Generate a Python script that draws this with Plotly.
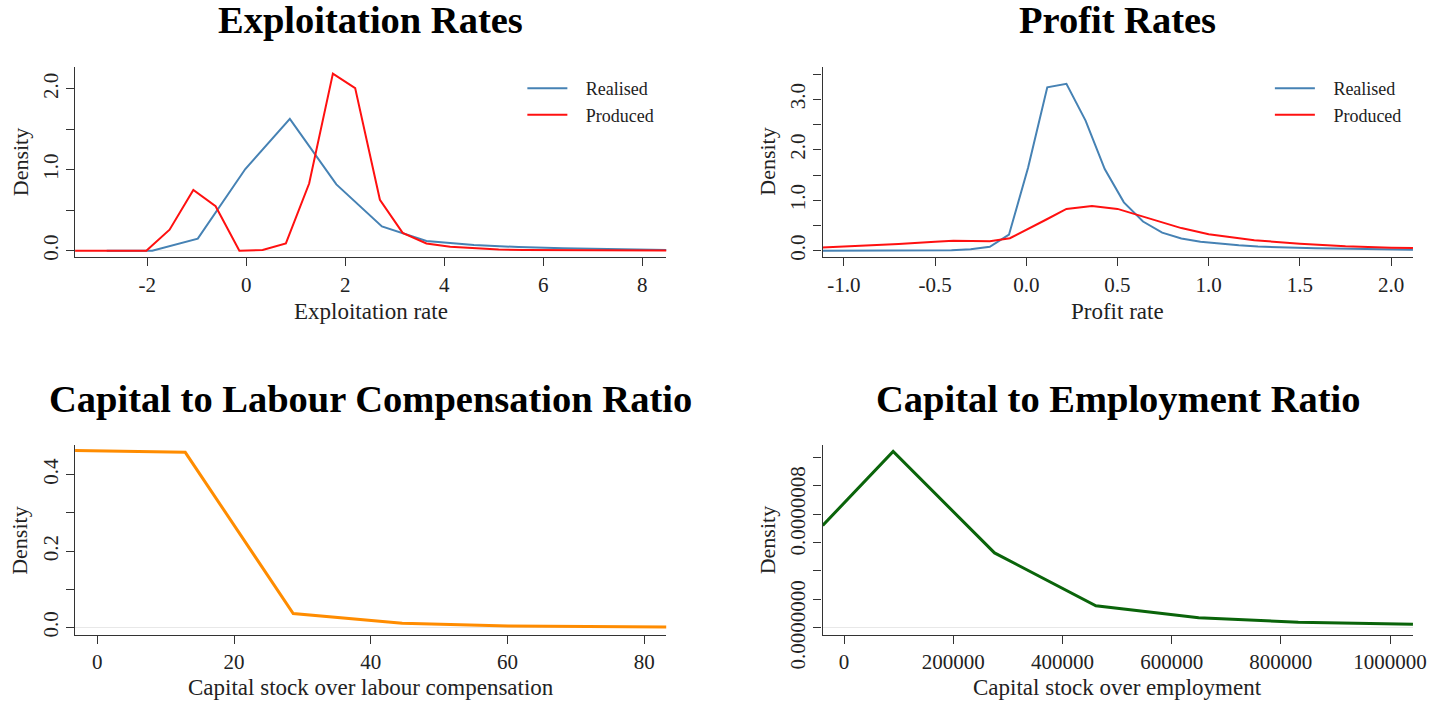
from __future__ import annotations

import plotly.graph_objects as go

# Exploitation rates (kernel density estimates)
expl_realised_x = [-2.82, -1.9, -0.98, -0.02, 0.88, 1.82, 2.74, 3.64, 4.6, 5.5, 6.4, 7.3, 8.2, 8.49]
expl_realised_y = [0.0, 0.0, 0.15, 1.01, 1.63, 0.82, 0.30, 0.12, 0.07, 0.045, 0.03, 0.02, 0.012, 0.01]
expl_produced_x = [-3.46, -2.98, -2.5, -2.02, -1.55, -1.07, -0.62, -0.14, 0.33, 0.8, 1.27, 1.75, 2.2, 2.7,
                   3.16, 3.64, 4.12, 4.6, 5.1, 5.6, 6.1, 6.6, 7.1, 7.6, 8.1, 8.49]
expl_produced_y = [0.0, 0.0, 0.0, 0.0, 0.26, 0.75, 0.55, 0.0, 0.01, 0.09, 0.83, 2.19, 2.01, 0.63,
                   0.22, 0.09, 0.05, 0.03, 0.015, 0.01, 0.008, 0.006, 0.005, 0.004, 0.003, 0.003]

# Profit rates
profit_realised_x = [-1.12, -0.83, -0.52, -0.41, -0.305, -0.2, -0.095, 0.01, 0.115, 0.22, 0.325, 0.43,
                     0.535, 0.64, 0.745, 0.85, 0.955, 1.06, 1.165, 1.27, 1.375, 1.48, 1.585, 1.69,
                     1.795, 1.9, 2.005, 2.12]
profit_realised_y = [0.0, 0.003, 0.008, 0.013, 0.03, 0.08, 0.32, 1.65, 3.24, 3.31, 2.58, 1.62,
                     0.96, 0.58, 0.36, 0.245, 0.18, 0.14, 0.11, 0.085, 0.07, 0.058, 0.05, 0.044,
                     0.038, 0.032, 0.027, 0.022]
profit_produced_x = [-1.12, -0.9, -0.7, -0.5, -0.4, -0.3, -0.2, -0.09, 0.01, 0.11, 0.22, 0.36, 0.5,
                     0.6, 0.75, 0.85, 1.0, 1.25, 1.5, 1.75, 2.0, 2.12]
profit_produced_y = [0.065, 0.1, 0.135, 0.18, 0.2, 0.195, 0.19, 0.25, 0.43, 0.62, 0.83, 0.89, 0.83,
                     0.72, 0.55, 0.45, 0.33, 0.21, 0.14, 0.09, 0.06, 0.055]

# Capital to labour compensation ratio
klc_x = [-3.25, 12.87, 28.66, 44.6, 60.1, 75.9, 83.25]
klc_y = [0.463, 0.4585, 0.0367, 0.0114, 0.0044, 0.0026, 0.0017]

# Capital to employment ratio
kemp_x = [-39000, 90000, 275700, 461300, 649500, 832000, 1042000]
kemp_y = [7.2e-7, 1.24e-6, 5.27e-7, 1.56e-7, 7.2e-8, 4.0e-8, 2.6e-8]

# Tick labels
expl_xticks = [-2, 0, 2, 4, 6, 8]
expl_xtext = ["-2", "0", "2", "4", "6", "8"]
expl_yticks = [0, 0.5, 1.0, 1.5, 2.0]
expl_ytext = ["0.0", "", "1.0", "", "2.0"]
profit_xticks = [-1.0, -0.5, 0.0, 0.5, 1.0, 1.5, 2.0]
profit_xtext = ["-1.0", "-0.5", "0.0", "0.5", "1.0", "1.5", "2.0"]
profit_yticks = [0, 0.5, 1.0, 1.5, 2.0, 2.5, 3.0, 3.5]
profit_ytext = ["0.0", "", "1.0", "", "2.0", "", "3.0", ""]
klc_xticks = [0, 20, 40, 60, 80]
klc_yticks = [0, 0.1, 0.2, 0.3, 0.4]
klc_ytext = ["0.0", "", "0.2", "", "0.4"]
kemp_xticks = [0, 200000, 400000, 600000, 800000, 1000000]
kemp_xtext = ["0", "200000", "400000", "600000", "800000", "1000000"]
kemp_yticks = [0, 2e-7, 4e-7, 6e-7, 8e-7, 1.0e-6, 1.2e-6]
kemp_ytext = ["0.0000000", "", "", "", "0.0000008", "", ""]

FONT = "Liberation Serif, Times New Roman, serif"
BLUE = "#4682b4"
RED = "#ff1010"
ORANGE = "#ff8c00"
GREEN = "#0a640a"

# positions below are worked out on the 1450x705 picture, as fractions of it
W, H = 1450, 705
# the figure itself is drawn a bit larger; the photographed page comes out at 1450x705
FIG_W, FIG_H = 1465, 740
GAP = "\u00a0\u00a0\u00a0"  # extra room between legend line and label


def px_x(v):
    return v / W


def px_y(v):
    return 1 - v / H


fig = go.Figure()

fig.add_trace(go.Scatter(x=expl_realised_x, y=expl_realised_y, mode="lines", name=GAP + "Realised",
                         line=dict(color=BLUE, width=2), xaxis="x", yaxis="y", legend="legend"))
fig.add_trace(go.Scatter(x=expl_produced_x, y=expl_produced_y, mode="lines", name=GAP + "Produced",
                         line=dict(color=RED, width=2), xaxis="x", yaxis="y", legend="legend"))
fig.add_trace(go.Scatter(x=profit_realised_x, y=profit_realised_y, mode="lines", name=GAP + "Realised",
                         line=dict(color=BLUE, width=2), xaxis="x2", yaxis="y2", legend="legend2"))
fig.add_trace(go.Scatter(x=profit_produced_x, y=profit_produced_y, mode="lines", name=GAP + "Produced",
                         line=dict(color=RED, width=2), xaxis="x2", yaxis="y2", legend="legend2"))
fig.add_trace(go.Scatter(x=klc_x, y=klc_y, mode="lines", showlegend=False,
                         line=dict(color=ORANGE, width=3), xaxis="x3", yaxis="y3"))
fig.add_trace(go.Scatter(x=kemp_x, y=kemp_y, mode="lines", showlegend=False,
                         line=dict(color=GREEN, width=3), xaxis="x4", yaxis="y4"))

left = [px_x(75), px_x(666)]
right = [px_x(822), px_x(1412)]
top = [px_y(257), px_y(67)]
bottom = [px_y(634), px_y(444)]

axis_common = dict(
    showline=True, linecolor="#333333", linewidth=1.2, ticks="outside", ticklen=8,
    tickcolor="#333333", showgrid=False, tickfont=dict(family=FONT, size=21, color="#222222"),
)
zero_common = dict(zeroline=True, zerolinecolor="#e8e8e8", zerolinewidth=1, tickangle=-90)
legend_common = dict(xanchor="left", yanchor="top", bgcolor="rgba(0,0,0,0)",
                     font=dict(family=FONT, size=18, color="#222222"), tracegroupgap=0, itemwidth=40)

fig.update_layout(
    width=FIG_W, height=FIG_H, autosize=False,
    paper_bgcolor="white", plot_bgcolor="white",
    margin=dict(l=0, r=0, t=0, b=0),
    font=dict(family=FONT, color="#222222"),
    xaxis=dict(domain=left, anchor="y", range=[-3.46, 8.49], tickvals=expl_xticks, ticktext=expl_xtext,
               zeroline=False, **axis_common),
    yaxis=dict(domain=top, anchor="x", range=[-0.082, 2.27], tickvals=expl_yticks, ticktext=expl_ytext,
               **zero_common, **axis_common),
    xaxis2=dict(domain=right, anchor="y2", range=[-1.117, 2.12], tickvals=profit_xticks,
                ticktext=profit_xtext, zeroline=False, **axis_common),
    yaxis2=dict(domain=top, anchor="x2", range=[-0.13, 3.64], tickvals=profit_yticks, ticktext=profit_ytext,
                **zero_common, **axis_common),
    xaxis3=dict(domain=left, anchor="y3", range=[-3.25, 83.25], tickvals=klc_xticks, zeroline=False,
                **axis_common),
    yaxis3=dict(domain=bottom, anchor="x3", range=[-0.019, 0.4786], tickvals=klc_yticks, ticktext=klc_ytext,
                **zero_common, **axis_common),
    xaxis4=dict(domain=right, anchor="y4", range=[-39260, 1042000], tickvals=kemp_xticks,
                ticktext=kemp_xtext, zeroline=False, **axis_common),
    yaxis4=dict(domain=bottom, anchor="x4", range=[-4.9e-8, 1.288e-6], tickvals=kemp_yticks,
                ticktext=kemp_ytext, **zero_common, **axis_common),
    legend=dict(x=px_x(522), y=px_y(70), **legend_common),
    legend2=dict(x=px_x(1269), y=px_y(70), **legend_common),
)

titles = [
    ("Exploitation Rates", (75 + 666) / 2, 20),
    ("Profit Rates", (822 + 1412) / 2, 20),
    ("Capital to Labour Compensation Ratio", (75 + 666) / 2, 398),
    ("Capital to Employment Ratio", (822 + 1412) / 2, 398),
]
for text, cx, cy in titles:
    fig.add_annotation(text=f"<b>{text}</b>", x=px_x(cx), y=px_y(cy), xref="paper", yref="paper",
                       showarrow=False, xanchor="center", yanchor="middle",
                       font=dict(family=FONT, size=38.5, color="black"))

x_titles = [
    ("Exploitation rate", (75 + 666) / 2, 311),
    ("Profit rate", (822 + 1412) / 2, 311),
    ("Capital stock over labour compensation", (75 + 666) / 2, 687),
    ("Capital stock over employment", (822 + 1412) / 2, 687),
]
for text, cx, cy in x_titles:
    fig.add_annotation(text=text, x=px_x(cx), y=px_y(cy), xref="paper", yref="paper",
                       showarrow=False, xanchor="center", yanchor="middle",
                       font=dict(family=FONT, size=23, color="#222222"))

for cx, cy in [(20, 162), (767, 162), (20, 540), (767, 540)]:
    fig.add_annotation(text="Density", x=px_x(cx), y=px_y(cy), xref="paper", yref="paper",
                       showarrow=False, xanchor="center", yanchor="middle", textangle=-90,
                       font=dict(family=FONT, size=22, color="#222222"))

fig.write_html(
    "out.html",
    config={"displayModeBar": False},
    post_script="document.body.style.margin='0';document.documentElement.style.overflow='hidden';",
)
